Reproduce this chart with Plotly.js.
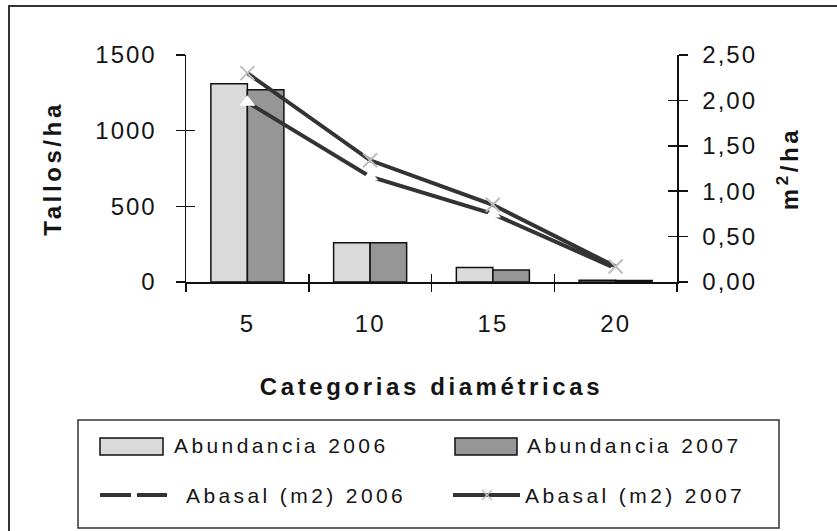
<!DOCTYPE html>
<html>
<head>
<meta charset="utf-8">
<script src="https://cdn.plot.ly/plotly-3.0.1.min.js"></script>
<style>
  html, body { margin: 0; padding: 0; background: #fff; }
  #chart { width: 837px; height: 531px; }
  .xtick text, .ytick text, .y2tick text { letter-spacing: 2px; }
  .xtitle, .ytitle, .y2title { letter-spacing: 3.6px; }
  .annotation-text { letter-spacing: 3.4px; }
</style>
</head>
<body>
<div id="chart"></div>
<script>
// ---- data ----
const categories = ['5', '10', '15', '20'];
const abundancia2006 = [1310, 260, 95, 12];
const abundancia2007 = [1270, 260, 80, 10];
const abasal2006 = [1.98, 1.16, 0.75, 0.15];
const abasal2007 = [2.30, 1.34, 0.85, 0.17];
const seriesNames = ['Abundancia 2006', 'Abundancia 2007', 'Abasal (m2) 2006', 'Abasal (m2) 2007'];
const leftTicks = [0, 500, 1000, 1500];
const rightTicks = [0, 0.5, 1, 1.5, 2, 2.5];
const xTitle = 'Categorias diamétricas';
const yTitle = 'Tallos/ha';
const y2Title = 'm<sup>2</sup>/ha';

// ---- layout geometry (pixels) ----
const W = 837, H = 531;
const L = 186, R = 677, T = 55, B = 282;
const px = x => (x - L) / (R - L);
const py = y => (B - y) / (B - T);

const FONT = '"Liberation Sans", Arial, sans-serif';
const TXT = '#141414';
const emptyY = categories.map(() => null);

const traces = [
  { type: 'bar', name: seriesNames[0], x: categories, y: abundancia2006, xaxis: 'x', yaxis: 'y',
    marker: { color: '#dadada', line: { color: '#111', width: 1.5 } }, hoverinfo: 'x+y' },
  { type: 'bar', name: seriesNames[1], x: categories, y: abundancia2007, xaxis: 'x', yaxis: 'y',
    marker: { color: '#969696', line: { color: '#111', width: 1.5 } }, hoverinfo: 'x+y' },
  { type: 'scatter', mode: 'lines+markers', name: seriesNames[2], x: categories, y: abasal2006,
    xaxis: 'x', yaxis: 'y2', line: { color: '#333', width: 4 },
    marker: { symbol: 'triangle-up', size: 14, color: '#ffffff', line: { width: 0 } } },
  { type: 'scatter', mode: 'lines+markers', name: seriesNames[3], x: categories, y: abasal2007,
    xaxis: 'x', yaxis: 'y2', line: { color: '#333', width: 4 },
    marker: { symbol: 'x-thin', size: 14, line: { color: '#bdbdbd', width: 2 } } },
  // helpers for crossing tick marks
  { type: 'scatter', mode: 'lines', x: categories, y: emptyY, xaxis: 'x2', yaxis: 'y', hoverinfo: 'skip', showlegend: false },
  { type: 'scatter', mode: 'lines', x: categories, y: emptyY, xaxis: 'x', yaxis: 'y3', hoverinfo: 'skip', showlegend: false },
  { type: 'scatter', mode: 'lines', x: categories, y: emptyY, xaxis: 'x', yaxis: 'y4', hoverinfo: 'skip', showlegend: false }
];

const axisBase = { showgrid: false, zeroline: false, showline: true, linecolor: '#111', linewidth: 1.5,
  tickcolor: '#111', tickwidth: 1.5, tickfont: { family: FONT, size: 24, color: TXT } };

const shapes = [];
const annotations = [];
// outer chart border
shapes.push({ type: 'rect', xref: 'paper', yref: 'paper', x0: px(9), x1: px(850), y0: py(545), y1: py(6),
  line: { color: '#333', width: 2 }, fillcolor: 'rgba(0,0,0,0)' });
// legend box
shapes.push({ type: 'rect', xref: 'paper', yref: 'paper', x0: px(78), x1: px(779), y0: py(528), y1: py(420),
  line: { color: '#333', width: 1.5 }, fillcolor: 'rgba(0,0,0,0)' });
// legend swatches
shapes.push({ type: 'rect', xref: 'paper', yref: 'paper', x0: px(100), x1: px(163), y0: py(455), y1: py(438),
  line: { color: '#111', width: 1.5 }, fillcolor: '#dadada' });
shapes.push({ type: 'rect', xref: 'paper', yref: 'paper', x0: px(455), x1: px(517), y0: py(455), y1: py(438),
  line: { color: '#111', width: 1.5 }, fillcolor: '#969696' });
shapes.push({ type: 'line', xref: 'paper', yref: 'paper', x0: px(100), x1: px(131), y0: py(495), y1: py(495),
  line: { color: '#333', width: 4 } });
shapes.push({ type: 'line', xref: 'paper', yref: 'paper', x0: px(137), x1: px(167), y0: py(495), y1: py(495),
  line: { color: '#333', width: 4 } });
shapes.push({ type: 'line', xref: 'paper', yref: 'paper', x0: px(453), x1: px(520), y0: py(495), y1: py(495),
  line: { color: '#333', width: 4 } });
shapes.push({ type: 'line', xref: 'paper', yref: 'paper', x0: px(482), x1: px(492), y0: py(490), y1: py(500),
  line: { color: '#bdbdbd', width: 1.5 } });
shapes.push({ type: 'line', xref: 'paper', yref: 'paper', x0: px(482), x1: px(492), y0: py(500), y1: py(490),
  line: { color: '#bdbdbd', width: 1.5 } });

const legendPos = [[172, 446], [525, 446], [184, 495], [523, 495]];
seriesNames.forEach((n, i) => {
  annotations.push({ xref: 'paper', yref: 'paper', x: px(legendPos[i][0]), y: py(legendPos[i][1]),
    xanchor: 'left', yanchor: 'middle', showarrow: false, text: n,
    font: { family: FONT, size: 21, color: TXT } });
});

const layout = {
  width: W, height: H, autosize: false,
  margin: { l: L, r: W - R, t: T, b: H - B, pad: 0 },
  paper_bgcolor: '#fff', plot_bgcolor: '#fff',
  showlegend: false,
  separators: ',.',
  barmode: 'group', bargap: 0.405, bargroupgap: 0,
  font: { family: FONT, color: TXT },
  xaxis: Object.assign({}, axisBase, {
    type: 'category', categoryarray: categories, range: [-0.5, 3.5],
    ticks: 'outside', ticklen: 8, tickson: 'boundaries', ticklabelstandoff: 20,
    title: { text: xTitle, font: { family: FONT, size: 24, weight: 'bold', color: TXT }, standoff: 42 }
  }),
  xaxis2: { overlaying: 'x', anchor: 'y', type: 'category', categoryarray: categories, range: [-0.5, 3.5],
    ticks: 'inside', ticklen: 8, tickwidth: 1.5, tickcolor: '#111', tickson: 'boundaries',
    showticklabels: false, showline: false, showgrid: false, zeroline: false },
  yaxis: Object.assign({}, axisBase, {
    range: [0, 1500], tickvals: leftTicks, ticks: 'outside', ticklen: 9, ticklabelstandoff: 14,
    title: { text: yTitle, font: { family: FONT, size: 24, weight: 'bold', color: TXT }, standoff: 27 }
  }),
  yaxis2: Object.assign({}, axisBase, {
    overlaying: 'y', side: 'right', anchor: 'x', range: [0, 2.5], tickvals: rightTicks, tickformat: '.2f',
    ticks: 'outside', ticklen: 9, ticklabelstandoff: 10,
    title: { text: y2Title, font: { family: FONT, size: 24, weight: 'bold', color: TXT }, standoff: 25 }
  }),
  yaxis3: { overlaying: 'y', side: 'left', anchor: 'x', range: [0, 1500], tickvals: leftTicks,
    ticks: 'inside', ticklen: 9, tickwidth: 1.5, tickcolor: '#111', showticklabels: false,
    showline: false, showgrid: false, zeroline: false },
  yaxis4: { overlaying: 'y', side: 'right', anchor: 'x', range: [0, 2.5], tickvals: rightTicks,
    ticks: 'inside', ticklen: 9, tickwidth: 1.5, tickcolor: '#111', showticklabels: false,
    showline: false, showgrid: false, zeroline: false },
  shapes: shapes,
  annotations: annotations
};

Plotly.newPlot('chart', traces, layout, { displayModeBar: false, staticPlot: true });
</script>
</body>
</html>
